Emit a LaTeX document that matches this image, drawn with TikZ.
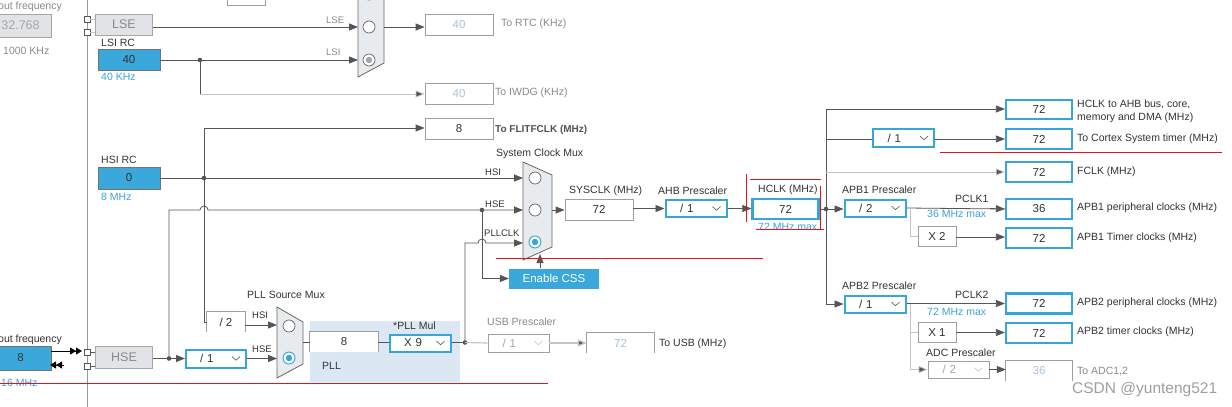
\documentclass[tikz,border=0pt]{standalone}
\usepackage{fontspec}
\setmainfont{Liberation Sans}
\usetikzlibrary{arrows.meta,calc}
\definecolor{cblue}{HTML}{36A6D8}
\definecolor{bfill}{HTML}{3AA8DA}
\definecolor{lnc}{HTML}{555555}
\definecolor{lightln}{HTML}{C4C4C4}
\definecolor{gfill}{HTML}{E1E3E6}
\definecolor{mfill}{HTML}{E8EBEE}
\definecolor{pllbg}{HTML}{DBE8F4}
\definecolor{txt}{HTML}{333333}
\definecolor{btxt}{HTML}{3AA3DB}
\definecolor{dtxt}{HTML}{A9C2DB}
\definecolor{gtxt}{HTML}{8A8A8A}
\definecolor{redl}{HTML}{E8101A}
\newcommand{\chv}[2][lnc]{\draw[#1,line width=0.6pt] ($(#2.east)+(-15,-1.8)$) -- ++(4,3.5) -- ++(4,-3.5);}
\begin{document}
\begin{tikzpicture}[x=1pt,y=-1pt,
  every node/.style={font=\fontsize{10.5}{11}\selectfont, text=txt, inner sep=0pt},
  lbl/.style={anchor=west},
  sml/.style={font=\fontsize{9.5}{10}\selectfont},
  box/.style={draw=gray!75, fill=white, line width=0.8pt, font=\fontsize{11.5}{12}\selectfont},
  openbox/.style={fill=white, font=\fontsize{11.5}{12}\selectfont},
  bbox/.style={draw=cblue, fill=white, line width=2.2pt, font=\fontsize{11.5}{12}\selectfont},
  selbox/.style={draw=cblue, fill=white, line width=2pt, font=\fontsize{11.5}{12}\selectfont, text width=50pt, align=left},
  gselbox/.style={draw=gray!75, fill=white, line width=0.8pt, font=\fontsize{11.5}{12}\selectfont, text width=50pt, align=left, text=gtxt},
  srcbox/.style={draw=gray!90!black, fill=bfill, line width=0.8pt, font=\fontsize{11.5}{12}\selectfont},
  gsrc/.style={draw=gray!70, fill=gfill, line width=0.8pt, font=\fontsize{12.5}{13}\selectfont, text=gtxt},
  ln/.style={draw=lnc, line width=0.8pt},
  lln/.style={draw=lightln, line width=0.8pt},
  arr/.style={ln, -{Triangle[length=9pt,width=7pt]}},
  larr/.style={lln, -{Triangle[length=9pt,width=7pt,fill=lnc]}},
  dot/.style={fill=lnc, draw=none},
  mux/.style={draw=gray!80!black, fill=mfill, line width=0.8pt},
  redline/.style={draw=redl, line width=0.9pt},
  conn/.style={draw=lnc, fill=white, line width=0.7pt, minimum size=6pt}
]
\useasboundingbox (0,0) rectangle (1232,407);
\clip (0,0) rectangle (1232,407);
\fill[white] (0,0) rectangle (1232,407);

% left border line
\draw[draw=gray!80, line width=0.9pt] (87,-2) -- (87,409);

% PLL background
\fill[pllbg] (310,321) rectangle (460,382);

% ---------- sources ----------
\node[gsrc, minimum width=61pt, minimum height=23pt, text=gray!70] (fin1) at (20.5,25.5) {32.768};
\node[gsrc, minimum width=57pt, minimum height=21pt] (lse) at (124,24.5) {LSE};
\node[srcbox, minimum width=62pt, minimum height=21pt] (lsi) at (129,59.5) {40};
\node[srcbox, minimum width=62pt, minimum height=22pt] (hsi) at (129,178) {0};
\node[gsrc, minimum width=57pt, minimum height=22pt] (hse) at (124,357) {HSE};
\node[srcbox, minimum width=61pt, minimum height=24pt] (fin2) at (20.5,358) {8};

\node[conn] (c1) at (87,19) {};
\node[conn] (c2) at (87,32) {};
\node[conn] (c3) at (87,352) {};
\node[conn] (c4) at (87,366) {};
\draw[lln] (c1.east) -- (c1.east -| lse.west);
\draw[lln] (c2.east) -- (c2.east -| lse.west);
\draw[ln] (c3.east) -- (c3.east -| hse.west);
\draw[ln] (c4.east) -- (c4.east -| hse.west);
\coordinate (fa) at (82,351);
\coordinate (fb) at (50,365);
\draw[draw=black, line width=0.8pt, -{Triangle[length=6pt,width=7pt]Triangle[length=6pt,width=7pt]}] (fin2.east |- fa) -- (fa);
\draw[draw=black, line width=0.8pt, -{Triangle[length=6pt,width=7pt]Triangle[length=6pt,width=7pt]}] (64,365) -- (fb);

\node[lbl, text=gtxt] (t1) at (-2,7) {out frequency};
\node[lbl, text=gtxt] (t2) at (3,51) {1000 KHz};
\node[lbl] (t3) at (101,43) {LSI RC};
\node[lbl, text=btxt] (t4) at (101,77) {40 KHz};
\node[lbl] (t5) at (101,160) {HSI RC};
\node[lbl, text=btxt] (t6) at (101,197) {8 MHz};
\node[lbl] (t7) at (-2,340) {out frequency};
\node[lbl, text=btxt] (t8) at (1,383) {16 MHz};

% ---------- RTC mux ----------
\draw[mux] (358,-45) -- (384,-31) -- (384,63) -- (358,77) -- cycle;
\draw[draw=gray!80!black, fill=white, line width=0.7pt] (369,-6) circle[radius=6];
\draw[draw=gray!80!black, fill=white, line width=0.7pt] (369,27) circle[radius=6];
\draw[draw=gray!80!black, fill=white, line width=0.7pt] (369,60) circle[radius=6];
\fill[gray!70] (369,60) circle[radius=3.2];
\coordinate (rtcA) at (358,27);
\coordinate (rtcB) at (358,60);
\coordinate (rtcO) at (384,27);
\node[box, minimum width=38pt, minimum height=20pt] (topbox) at (246,-5) {};
\node[box, minimum width=68pt, minimum height=21pt, text=dtxt] (rtc) at (459,24.5) {40};
\node[box, minimum width=68pt, minimum height=21pt, text=dtxt] (iwdg) at (459,93.5) {40};
\node[box, minimum width=68pt, minimum height=21pt] (flit) at (459,128.5) {8};
\node[lbl, sml, text=gtxt] (tlse) at (326,20) {LSE};
\node[lbl, sml, text=gtxt] (tlsi) at (326,52) {LSI};
\node[lbl, text=gtxt] (t9) at (501,24) {To RTC (KHz)};
\node[lbl, text=gtxt] (t10) at (495,93) {To IWDG (KHz)};
\node[lbl, font=\fontsize{10}{11}\selectfont\bfseries, text=txt!85] (t11) at (495,130) {To FLITFCLK (MHz)};

\draw[arr] (lse.east |- rtcA) -- (rtcA);
\coordinate (jlsi) at (200,60);
\draw[arr] (lsi.east |- rtcB) -- (rtcB);
\fill[dot] (jlsi) circle[radius=2.3];
\draw[ln] (jlsi) -- (200,94);
\draw[larr] (200,94) -- (iwdg.west |- 0,94);
\draw[arr] (rtcO) -- (rtc.west |- rtcO);

% ---------- System clock mux ----------
\draw[mux] (523,162) -- (552,175) -- (552,247) -- (523,260) -- cycle;
\draw[draw=gray!80!black, fill=white, line width=0.7pt] (535,178) circle[radius=6];
\draw[draw=gray!80!black, fill=white, line width=0.7pt] (535,210) circle[radius=6];
\draw[draw=cblue, fill=white, line width=0.9pt] (535,242) circle[radius=6];
\fill[cblue] (535,242) circle[radius=3.2];
\coordinate (smA) at (523,178);
\coordinate (smB) at (523,210);
\coordinate (smC) at (523,243);
\coordinate (smO) at (552,210);
\coordinate (smBot) at (540,254);
\node[lbl] (t12) at (496,154) {System Clock Mux};
\node[lbl, sml] (t13) at (485,172) {HSI};
\node[lbl, sml] (t14) at (485,204) {HSE};
\node[lbl, sml] (t15) at (484,233) {PLLCLK};

% HSI path
\coordinate (jhsi) at (204,178);
\draw[arr] (hsi.east |- smA) -- (smA);
\draw[ln] (204,128) -- (204,322);
\fill[dot] (jhsi) circle[radius=2.3];
\draw[arr] (204,128) -- (flit.west |- 0,128);

% /2 box (open bottom)
\node[openbox, minimum width=38pt, minimum height=20pt] (div2) at (226,322) {/ 2};
\draw[draw=gray!75, line width=0.8pt] (div2.south west) -- (div2.north west) -- (div2.north east) -- (div2.south east);
\draw[ln] (204,322) -- (div2.west);

% HSE path
\node[selbox, minimum width=60pt, minimum height=18pt] (hsepre) at (216,358.5) {\hspace*{9pt}/ 1};
\chv{hsepre}
\coordinate (jhse) at (169,358.5);
\draw[ln] (hse.east |- jhse) -- (jhse);
\draw[arr] (jhse) -- (hsepre.west);
\fill[dot] (jhse) circle[radius=2.3];
\coordinate (jhse2) at (482,210);
\draw[arr] (jhse) -- (169,210) -- (200,210) arc[start angle=180, end angle=360, radius=4] -- (smB);
\fill[dot] (jhse2) circle[radius=2.3];
\node[fill=bfill, minimum width=90pt, minimum height=20pt, text=white, font=\fontsize{11.5}{12}\selectfont] (css) at (554,278.5) {Enable CSS};
\draw[arr] (jhse2) -- (482,278.5) -- (css.west);
\draw[arr] (css.north -| smBot) -- (smBot);

% ---------- PLL source mux ----------
\draw[mux] (277,307) -- (303,322) -- (303,364) -- (277,378) -- cycle;
\draw[draw=gray!80!black, fill=white, line width=0.7pt] (289,326) circle[radius=6];
\draw[draw=cblue, fill=white, line width=0.9pt] (289,358) circle[radius=6];
\fill[cblue] (289,358) circle[radius=3.2];
\coordinate (pmA) at (277,325);
\coordinate (pmB) at (277,358.5);
\coordinate (pmO) at (303,342);
\node[lbl] (t16) at (247,295) {PLL Source Mux};
\node[lbl, sml] (t17) at (252,315) {HSI};
\node[lbl, sml] (t18) at (252,349) {HSE};
\draw[arr] (div2.east |- pmA) -- (pmA);
\draw[arr] (hsepre.east) -- (pmB);

\node[openbox, minimum width=68pt, minimum height=20pt] (pll8) at (344,342) {8};
\draw[draw=gray!75, line width=0.8pt] (pll8.south west) -- (pll8.north west) -- (pll8.north east) -- (pll8.south east);
\node[selbox, minimum width=61pt, minimum height=17pt] (pllmul) at (420,343) {\hspace*{9pt}X 9};
\chv{pllmul}
\node[lbl] (t19) at (393,326) {*PLL Mul};
\node[lbl] (t20) at (322,366) {PLL};
\draw[ln] (pmO) -- (pll8.west |- pmO);
\draw[ln] (pll8.east |- pmO) -- (pllmul.west |- pmO);
\coordinate (jpll) at (465,342.5);
\draw[ln] (pllmul.east |- jpll) -- (jpll);
\draw[arr] (jpll) -- (465,243) -- (478,243) arc[start angle=180, end angle=360, radius=4] -- (smC);
\fill[dot] (jpll) circle[radius=2.3];

% USB
\node[gselbox, minimum width=61pt, minimum height=18pt, text=gray!70] (usbpre) at (518.5,343) {\hspace*{9pt}/ 1};
\chv[lightln]{usbpre}
\draw[draw=lightln, line width=1.2pt] (jpll) -- (usbpre.west);
\node[openbox, minimum width=67pt, minimum height=20pt, text=dtxt] (usb72) at (620.5,343) {72};
\draw[draw=gray!75, line width=0.8pt] (usb72.south west) -- (usb72.north west) -- (usb72.north east) -- (usb72.south east);
\draw[draw=lightln, line width=1.2pt, -{Triangle[length=9pt,width=7pt,fill=lnc]}] (usbpre.east) -- (usb72.west);
\node[lbl, text=gtxt] (t21) at (487,322) {USB Prescaler};
\node[lbl] (t22) at (659,344) {To USB (MHz)};

% ---------- SYSCLK / AHB / HCLK ----------
\node[box, minimum width=68pt, minimum height=21pt] (sysclk) at (599,209.5) {72};
\node[selbox, minimum width=61pt, minimum height=17pt] (ahb) at (696,208.5) {\hspace*{9pt}/ 1};
\chv{ahb}
\node[bbox, minimum width=66pt, minimum height=20pt] (hclk) at (785.5,209) {72};
\node[lbl] (t23) at (569,191) {SYSCLK (MHz)};
\node[lbl] (t24) at (658,191) {AHB Prescaler};
\node[lbl] (t25) at (758,190) {HCLK (MHz)};
\node[lbl, text=btxt] (t26) at (758,227) {72 MHz max};
\draw[arr] (smO) -- (sysclk.west |- smO);
\draw[arr] (sysclk.east |- ahb.west) -- (ahb.west);
\draw[arr] (ahb.east) -- (hclk.west |- ahb.east);

% ---------- right side ----------
\coordinate (jhclk) at (826,209);
\draw[ln] (826,109) -- (826,304);
\draw[ln] (hclk.east |- jhclk) -- (jhclk);
\fill[dot] (jhclk) circle[radius=2.3];

\node[bbox, minimum width=66pt, minimum height=19pt] (ahb72) at (1039,109.5) {72};
\node[selbox, minimum width=61pt, minimum height=18pt] (cdiv) at (903.5,138) {\hspace*{9pt}/ 1};
\chv{cdiv}
\node[bbox, minimum width=66pt, minimum height=20pt] (cortex72) at (1039,139) {72};
\node[bbox, minimum width=66pt, minimum height=20pt] (fclk72) at (1039,172) {72};
\node[selbox, minimum width=61pt, minimum height=17pt] (apb1) at (875,208) {\hspace*{9pt}/ 2};
\chv{apb1}
\node[bbox, minimum width=66pt, minimum height=20pt] (apb1p) at (1039,209) {36};
\node[box, minimum width=38pt, minimum height=20pt] (x2) at (937,236) {X 2};
\node[bbox, minimum width=66pt, minimum height=20pt] (apb1t) at (1039,238) {72};
\node[selbox, minimum width=61pt, minimum height=17pt] (apb2) at (875,304) {\hspace*{9pt}/ 1};
\chv{apb2}
\node[bbox, minimum width=66pt, minimum height=20pt] (apb2p) at (1039,303.5) {72};
\node[box, minimum width=38pt, minimum height=20pt] (x1) at (937,332.5) {X 1};
\node[bbox, minimum width=66pt, minimum height=20pt] (apb2t) at (1039,333) {72};
\node[gselbox, minimum width=61pt, minimum height=17pt, text=gray!70] (adcpre) at (958.5,369.5) {\hspace*{9pt}/ 2};
\chv[lightln]{adcpre}
\node[openbox, minimum width=66pt, minimum height=20pt, text=dtxt] (adc36) at (1039,370.5) {36};
\draw[draw=gray!75, line width=0.8pt] (adc36.south west) -- (adc36.north west) -- (adc36.north east) -- (adc36.south east);

\draw[arr] (826,109) -- (ahb72.west |- 0,109);
\draw[ln] (826,139) -- (cdiv.west |- 0,139);
\draw[arr] (cdiv.east |- 0,139) -- (cortex72.west |- 0,139);
\draw[lln, -{Triangle[length=9pt,width=7pt,fill=lnc]}] (826,172) -- (fclk72.west);
\draw[arr] (jhclk) -- (apb1.west |- jhclk);
\draw[arr] (826,304) -- (apb2.west);

\draw[ln] (apb1.east) -- (apb1p.west);
\draw[arr] (990,208.5) -- (apb1p.west);
\draw[lln] (910,208) -- (910,236) -- (x2.west);
\draw[arr] (x2.east |- 0,237) -- (apb1t.west |- 0,237);

\draw[arr] (apb2.east |- 0,303.5) -- (apb2p.west);
\draw[lln] (910,303.5) -- (910,369.5);
\draw[lln] (910,332.5) -- (x1.west);
\draw[larr] (910,369.5) -- (adcpre.west);
\draw[arr] (x1.east) -- (apb2t.west |- x1.east);
\draw[arr] (adcpre.east) -- (adc36.west |- adcpre.east);

\node[lbl] (t27) at (842,190) {APB1 Prescaler};
\node[lbl, fill=white] (t28) at (955,199) {PCLK1};
\node[lbl, text=btxt, fill=white] (t29) at (927,214) {36 MHz max};
\node[lbl] (t30) at (842,286) {APB2 Prescaler};
\node[lbl, fill=white] (t31) at (955,295) {PCLK2};
\node[lbl, text=btxt, fill=white] (t32) at (927,312) {72 MHz max};
\node[lbl] (t33) at (926,353) {ADC Prescaler};

\node[lbl, align=left, font=\fontsize{10.5}{13}\selectfont] (r1) at (1077,111) {HCLK to AHB bus, core,\\memory and DMA (MHz)};
\node[lbl] (r2) at (1077,139) {To Cortex System timer (MHz)};
\node[lbl] (r3) at (1077,172) {FCLK (MHz)};
\node[lbl] (r4) at (1077,208) {APB1 peripheral clocks (MHz)};
\node[lbl] (r5) at (1077,238) {APB1 Timer clocks (MHz)};
\node[lbl] (r6) at (1077,303) {APB2 peripheral clocks (MHz)};
\node[lbl] (r7) at (1077,332) {APB2 timer clocks (MHz)};
\node[lbl, text=gtxt] (r8) at (1077,372) {To ADC1,2};

% ---------- red annotation lines ----------
\draw[redline] (746,174) -- (746,222);
\draw[redline] (750,179) -- (821,179);
\draw[redline] (820,186) -- (820,229);
\draw[redline] (756,229) -- (824,229);
\draw[redline] (496,258) -- (763,258);
\draw[redline] (940,152) -- (1222,152);
\draw[redline] (0,383) -- (548,383);

% watermark
\node[lbl, text=gray!75, font=\fontsize{15.5}{16}\selectfont] (wm) at (1072,389) {CSDN @yunteng521};
\end{tikzpicture}
\end{document}
